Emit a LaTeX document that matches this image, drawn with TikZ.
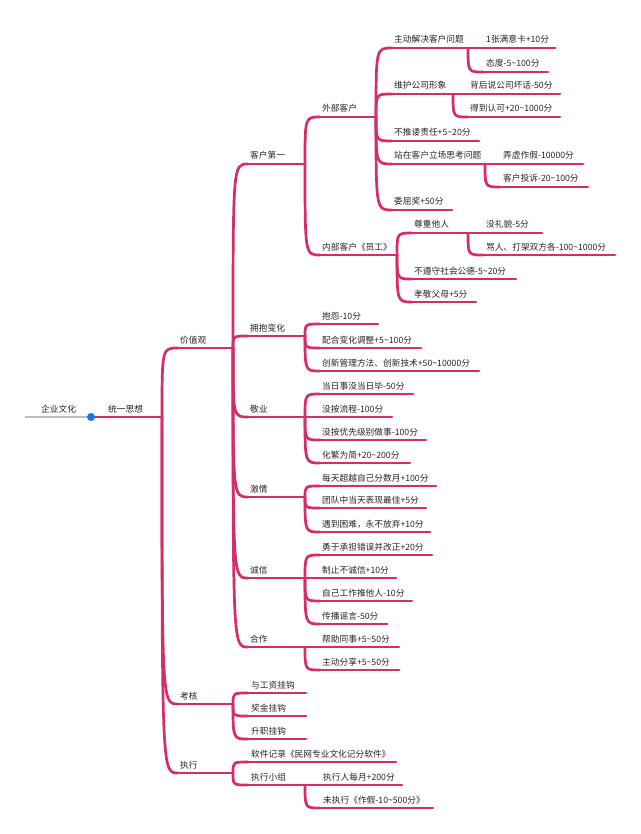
\documentclass[tikz,border=0pt]{standalone}
\usepackage{fontspec}
\newfontfamily\cjk{Noto Sans CJK SC}
\definecolor{brpink}{RGB}{214,45,105}
\definecolor{rootgray}{RGB}{190,190,190}
\definecolor{dotblue}{RGB}{26,115,232}
\definecolor{txt}{RGB}{35,35,35}
\newcommand\tld{\textasciitilde}
\tikzset{
  ul/.style={draw=brpink,line width=2.7pt,line cap=round},
  rootline/.style={draw=rootgray,line width=2.7pt},
  lbl/.style={anchor=base west,inner sep=0pt,font=\cjk\fontsize{8.7}{10}\selectfont,text=txt},
}
\newcommand\topic[6]{%
  \coordinate (#1-s) at (#2,#5);
  \coordinate (#1-e) at (#4,#5);
  \node[lbl] (#1) at (#3,#5-5) {#6};
  \draw[ul] (#1-s) -- (#1-e);
}
\newcommand\conn[2]{\draw[ul] (#1-e) .. controls (#1-e |- #2-s) .. (#2-s);}
\begin{document}
\begin{tikzpicture}[x=1pt,y=-1pt]
\useasboundingbox (0,0) rectangle (640,834);
% root
\coordinate (r-s) at (25,417);
\coordinate (r-e) at (91,417);
\node[lbl] (r) at (41,412) {企业文化};
\draw[rootline] (r-s) -- (r-e);
\topic{t}{91}{108}{162}{417}{统一思想}
% level 1
\topic{v}{178}{180}{233}{348}{价值观}
\topic{k}{178}{180}{233}{704}{考核}
\topic{z}{178}{180}{233}{773}{执行}
\conn{t}{v}\conn{t}{k}\conn{t}{z}
% 价值观
\topic{c1}{248}{250}{305}{164}{客户第一}
\topic{c2}{248}{250}{305}{336}{拥抱变化}
\topic{c3}{248}{250}{305}{417}{敬业}
\topic{c4}{248}{250}{305}{497}{激情}
\topic{c5}{248}{250}{305}{578}{诚信}
\topic{c6}{248}{250}{305}{647}{合作}
\conn{v}{c1}\conn{v}{c2}\conn{v}{c3}\conn{v}{c4}\conn{v}{c5}\conn{v}{c6}
% 考核
\topic{k1}{248}{251}{306}{693}{与工资挂钩}
\topic{k2}{248}{251}{306}{716}{奖金挂钩}
\topic{k3}{248}{251}{306}{739}{升职挂钩}
\conn{k}{k1}\conn{k}{k2}\conn{k}{k3}
% 执行
\topic{z1}{248}{251}{396}{762}{软件记录《民网专业文化记分软件》}
\topic{z2}{248}{251}{305}{785}{执行小组}
\conn{z}{z1}\conn{z}{z2}
\topic{z21}{305}{323}{402}{785}{执行人每月+200分}
\topic{z22}{320}{323}{433}{808}{未执行《作假-10\tld500分》}
\conn{z2}{z22}
% 客户第一
\topic{w}{320}{322}{376}{117}{外部客户}
\topic{n}{320}{322}{397}{255}{内部客户《员工》}
\conn{c1}{w}\conn{c1}{n}
% 外部客户
\topic{w1}{392}{394}{468}{48}{主动解决客户问题}
\topic{w2}{392}{394}{453}{94}{维护公司形象}
\topic{w3}{392}{394}{479}{141}{不推诿责任+5\tld20分}
\topic{w4}{392}{394}{485}{164}{站在客户立场思考问题}
\topic{w5}{392}{394}{452}{210}{委屈奖+50分}
\conn{w}{w1}\conn{w}{w2}\conn{w}{w3}\conn{w}{w4}\conn{w}{w5}
\topic{w11}{468}{486}{555}{48}{1张满意卡+10分}
\topic{w12}{483}{486}{548}{72}{态度-5\tld100分}
\conn{w1}{w12}
\topic{w21}{453}{470}{560}{94}{背后说公司坏话-50分}
\topic{w22}{468}{470}{560}{117}{得到认可+20\tld1000分}
\conn{w2}{w22}
\topic{w41}{485}{503}{583}{164}{弄虚作假-10000分}
\topic{w42}{500}{503}{588}{187}{客户投诉-20\tld100分}
\conn{w4}{w42}
% 内部客户
\topic{n1}{412}{414}{468}{233}{尊重他人}
\topic{n2}{412}{414}{516}{279}{不遵守社会公德-5\tld20分}
\topic{n3}{412}{414}{476}{302}{孝敬父母+5分}
\conn{n}{n1}\conn{n}{n2}\conn{n}{n3}
\topic{n11}{468}{486}{542}{233}{没礼貌-5分}
\topic{n12}{483}{486}{615}{255}{骂人、打架双方各-100\tld1000分}
\conn{n1}{n12}
% 拥抱变化
\topic{b1}{320}{322}{378}{324}{抱怨-10分}
\topic{b2}{320}{322}{421}{348}{配合变化调整+5\tld100分}
\topic{b3}{320}{322}{479}{371}{创新管理方法、创新技术+50\tld10000分}
\conn{c2}{b1}\conn{c2}{b2}\conn{c2}{b3}
% 敬业
\topic{j1}{320}{322}{413}{394}{当日事没当日毕-50分}
\topic{j2}{305}{322}{392}{417}{没按流程-100分}
\topic{j3}{320}{322}{426}{440}{没按优先级别做事-100分}
\topic{j4}{320}{322}{410}{463}{化繁为简+20\tld200分}
\conn{c3}{j1}\conn{c3}{j3}\conn{c3}{j4}
% 激情
\topic{q1}{320}{322}{436}{486}{每天超越自己分数月+100分}
\topic{q2}{320}{322}{426}{508}{团队中当天表现最佳+5分}
\topic{q3}{320}{322}{430}{532}{遇到困难，永不放弃+10分}
\conn{c4}{q1}\conn{c4}{q2}\conn{c4}{q3}
% 诚信
\topic{h1}{320}{322}{432}{555}{勇于承担错误并改正+20分}
\topic{h2}{305}{322}{396}{578}{制止不诚信+10分}
\topic{h3}{320}{322}{412}{601}{自己工作推他人-10分}
\topic{h4}{320}{322}{387}{624}{传播谣言-50分}
\conn{c5}{h1}\conn{c5}{h3}\conn{c5}{h4}
% 合作
\topic{p1}{305}{322}{399}{647}{帮助同事+5\tld50分}
\topic{p2}{320}{322}{399}{670}{主动分享+5\tld50分}
\conn{c6}{p2}
% blue dot
\fill[dotblue] (r-e) circle (4);
\end{tikzpicture}
\end{document}
